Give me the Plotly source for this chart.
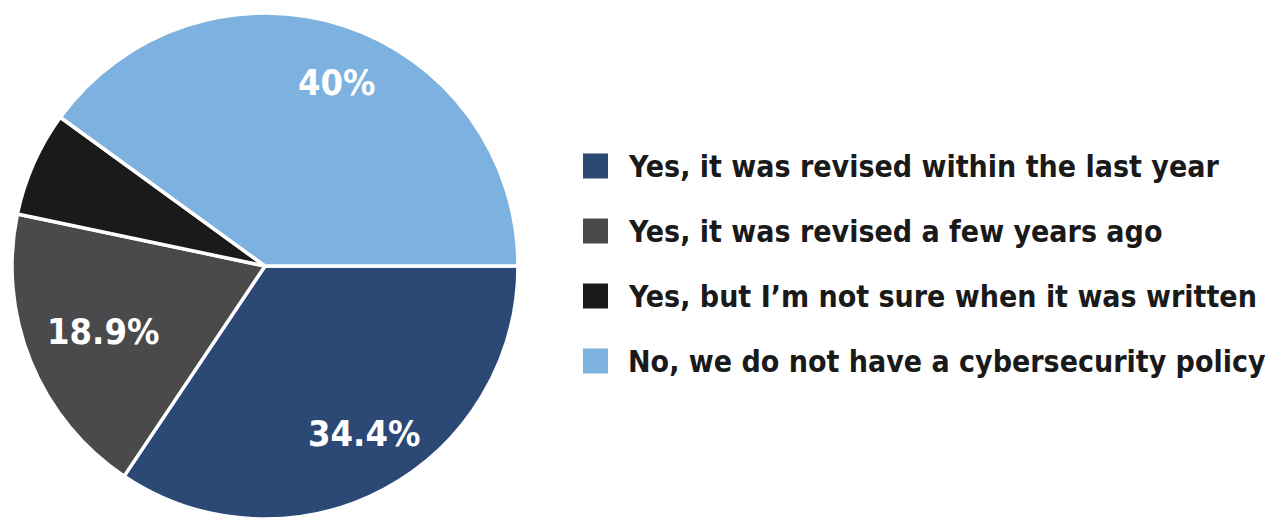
import math
import plotly.graph_objects as go

labels = [
    "Yes, it was revised within the last year",
    "Yes, it was revised a few years ago",
    "Yes, but I\u2019m not sure when it was written",
    "No, we do not have a cybersecurity policy",
]
values = [34.4, 18.9, 6.7, 40.0]
slice_text = ["34.4%", "18.9%", "", "40%"]
colors = ["#2c4875", "#4a494b", "#1a1a1a", "#7db2e0"]

W, H = 1283, 519
FONT = "DejaVu Sans Condensed, sans-serif"

# pie geometry (pixels)
PX0, PX1, PY0, PY1 = 12, 518, 13, 519
CX, CY = (PX0 + PX1) / 2, (PY0 + PY1) / 2
R = min(PX1 - PX0, PY1 - PY0) / 2
label_rfrac = [0.77, 0.69, 0.0, 0.78]
label_dang = [2.5, 0.0, 0.0, -3.5]

fig = go.Figure()
fig.add_trace(go.Pie(
    labels=labels,
    values=values,
    textinfo="none",
    sort=False,
    direction="clockwise",
    rotation=90,
    marker=dict(colors=colors, line=dict(color="white", width=3.5)),
    showlegend=False,
    hoverinfo="label+percent",
    domain=dict(x=[PX0 / W, PX1 / W], y=[1 - PY1 / H, 1 - PY0 / H]),
))

# slice labels placed along each slice's bisector
total = sum(values)
cum = 0.0
for v, t, rf, da in zip(values, slice_text, label_rfrac, label_dang):
    mid = cum + v / 2
    cum += v
    if not t:
        continue
    ang = math.radians(-360 * mid / total + da)
    px = CX + rf * R * math.cos(ang)
    py = CY - rf * R * math.sin(ang)
    fig.add_annotation(text=t, xref="paper", yref="paper",
                       x=px / W, y=1 - py / H, xanchor="center", yanchor="middle",
                       showarrow=False,
                       font=dict(family=FONT, size=36, color="white", weight="bold"))

# legend drawn as annotations + squares
row_y0 = 166
row_gap = 65
for i, (lab, col) in enumerate(zip(labels, colors)):
    yc = row_y0 + i * row_gap
    fig.add_shape(type="rect", xref="paper", yref="paper",
                  x0=583 / W, x1=608 / W,
                  y0=1 - (yc + 12.5) / H, y1=1 - (yc - 12.5) / H,
                  fillcolor=col, line=dict(width=0))
    fig.add_annotation(text=lab, xref="paper", yref="paper",
                       x=626 / W, y=1 - yc / H, xanchor="left", yanchor="middle",
                       showarrow=False,
                       font=dict(family=FONT, size=30, color="#1a1a1a", weight="bold"))

fig.update_layout(
    width=W, height=H,
    margin=dict(l=0, r=0, t=0, b=0),
    paper_bgcolor="white", plot_bgcolor="white",
)
fig.write_html("out.html")
